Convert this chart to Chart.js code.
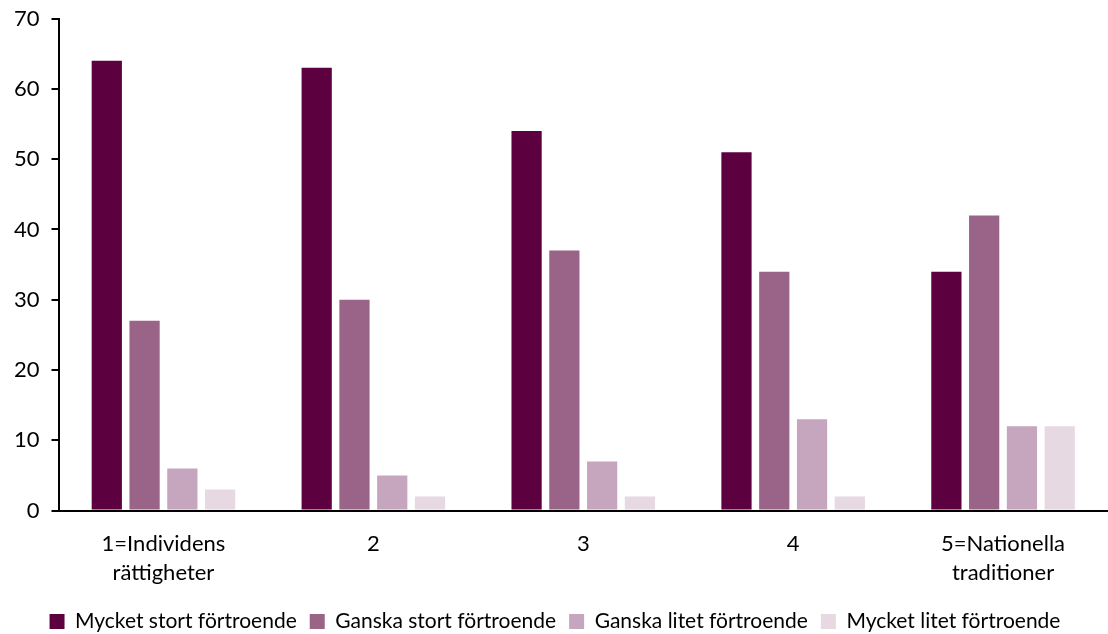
<!DOCTYPE html>
<html>
<head>
<meta charset="utf-8">
<script src="https://cdn.jsdelivr.net/npm/chart.js@4"></script>
<style>
html,body{margin:0;padding:0;background:#fff;}
#wrap{width:1108px;height:634px;position:relative;}
</style>
</head>
<body>
<div id="wrap"><canvas id="c" width="1108" height="634"></canvas></div>
<script>
const categories = [["1=Individens","rättigheter"],"2","3","4",["5=Nationella","traditioner"]];
const seriesNames = ["Mycket stort förtroende","Ganska stort förtroende","Ganska litet förtroende","Mycket litet förtroende"];
const mycketStort = [64,63,54,51,34];
const ganskaStort = [27,30,37,34,42];
const ganskaLitet = [6,5,7,13,12];
const mycketLitet = [3,2,2,2,12];
const colors = ["#5C0040","#9A6489","#C6A6BF","#E6D9E2"];
const yTicks = [0,10,20,30,40,50,60,70];

const values = [mycketStort,ganskaStort,ganskaLitet,mycketLitet];
Chart.defaults.font.family = "Lato, 'Open Sans', sans-serif";
Chart.defaults.font.size = 22;
Chart.defaults.color = "#000";
new Chart(document.getElementById('c'), {
  type: 'bar',
  data: {
    labels: categories,
    datasets: seriesNames.map((n,i)=>({label:n,data:values[i],backgroundColor:colors[i],borderWidth:0,categoryPercentage:0.72,barPercentage:0.8}))
  },
  options: {
    responsive:false,
    animation:false,
    layout:{padding:{top:0,right:0,left:2,bottom:-8}},
    plugins:{
      legend:{position:'bottom',labels:{boxWidth:15,boxHeight:15,padding:13,font:{size:21}}},
      tooltip:{enabled:false}
    },
    scales:{
      x:{
        grid:{display:false},
        border:{display:true,color:'#000',width:2},
        ticks:{padding:10,font:{size:22,lineHeight:1.35}}
      },
      y:{
        min:0,max:70,
        afterBuildTicks:(ax)=>{ax.ticks=yTicks.map(v=>({value:v}));},
        grid:{display:true,drawOnChartArea:false,drawTicks:true,tickLength:7,color:'#000',lineWidth:2},
        border:{display:true,color:'#000',width:2},
        ticks:{padding:12,font:{size:22,lineHeight:0.6}}
      }
    }
  }
});
</script>
</body>
</html>
